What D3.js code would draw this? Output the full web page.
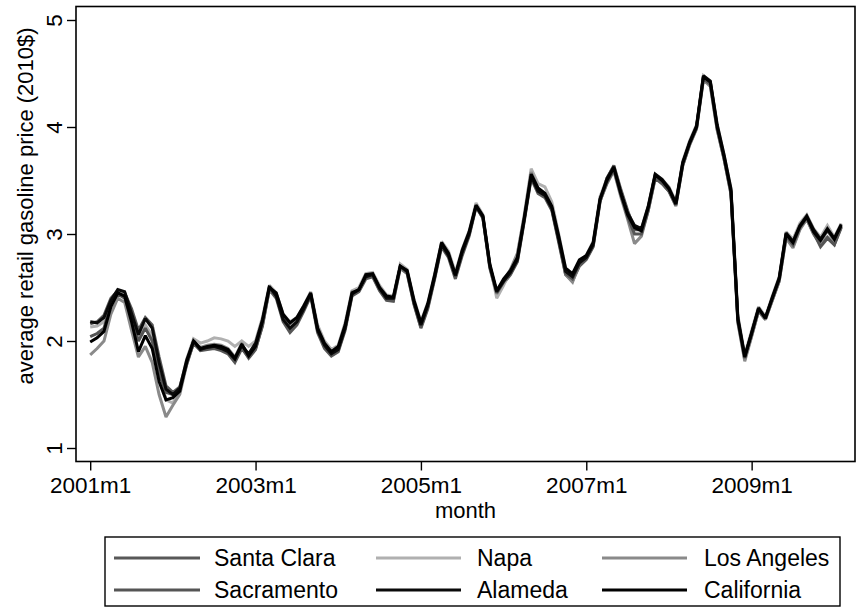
<!DOCTYPE html>
<html>
<head>
<meta charset="utf-8">
<script src="https://cdn.jsdelivr.net/npm/d3@7"></script>
<style>
  html, body { margin: 0; padding: 0; background: #fff; }
  svg { display: block; }
  text { font-family: "Liberation Sans", Arial, Helvetica, sans-serif; fill: #000; }
</style>
</head>
<body>
<svg id="chart" width="859" height="610"></svg>
<script>
// ---- data (monthly, 2001m1 .. 2010m2) ----
const santaClara = [
  2.16, 2.18, 2.24, 2.40, 2.47, 2.45, 2.30, 2.10, 2.22, 2.15, 1.85, 1.58,
  1.52, 1.57, 1.80, 1.98, 1.91, 1.92, 1.93, 1.91, 1.88, 1.80, 1.93, 1.85,
  1.93, 2.14, 2.48, 2.40, 2.18, 2.08, 2.15, 2.28, 2.42, 2.08, 1.93, 1.86,
  1.90, 2.10, 2.42, 2.46, 2.58, 2.60, 2.47, 2.38, 2.37, 2.68, 2.63, 2.34,
  2.12, 2.30, 2.58, 2.88, 2.78, 2.58, 2.80, 2.98, 3.25, 3.15, 2.68, 2.44,
  2.54, 2.62, 2.74, 3.12, 3.52, 3.38, 3.34, 3.22, 2.92, 2.62, 2.56, 2.70,
  2.76, 2.88, 3.30, 3.52, 3.64, 3.42, 3.22, 3.04, 3.04, 3.24, 3.53, 3.48,
  3.40, 3.27, 3.65, 3.84, 3.99, 4.46, 4.40, 3.98, 3.70, 3.38, 2.18, 1.83,
  2.05, 2.28, 2.20, 2.38, 2.56, 2.97, 2.88, 3.05, 3.14, 3.00, 2.90, 2.97,
  2.90, 3.06
];
const napa = [
  2.13, 2.14, 2.18, 2.36, 2.46, 2.44, 2.25, 2.05, 2.15, 2.05, 1.75, 1.45,
  1.42, 1.55, 1.83, 2.02, 1.98, 2.00, 2.03, 2.02, 2.00, 1.95, 2.00, 1.95,
  2.00, 2.22, 2.52, 2.45, 2.25, 2.18, 2.22, 2.33, 2.46, 2.15, 2.00, 1.92,
  1.96, 2.17, 2.47, 2.50, 2.63, 2.64, 2.52, 2.43, 2.42, 2.72, 2.67, 2.39,
  2.18, 2.36, 2.63, 2.93, 2.84, 2.64, 2.86, 3.03, 3.29, 3.18, 2.72, 2.40,
  2.52, 2.66, 2.80, 3.18, 3.61, 3.47, 3.44, 3.30, 3.00, 2.68, 2.62, 2.74,
  2.80, 2.93, 3.35, 3.52, 3.63, 3.40, 3.20, 3.07, 3.05, 3.27, 3.56, 3.51,
  3.44, 3.30, 3.68, 3.87, 4.02, 4.48, 4.43, 4.03, 3.74, 3.43, 2.24, 1.87,
  2.10, 2.32, 2.23, 2.42, 2.60, 3.02, 2.95, 3.10, 3.18, 3.05, 2.97, 3.08,
  2.97, 3.10
];
const losAngeles = [
  1.87, 1.93, 2.00, 2.25, 2.40, 2.36, 2.10, 1.85, 1.95, 1.80, 1.50, 1.29,
  1.40, 1.50, 1.78, 1.99, 1.94, 1.96, 1.97, 1.96, 1.93, 1.85, 1.98, 1.86,
  1.95, 2.17, 2.48, 2.44, 2.24, 2.16, 2.21, 2.32, 2.44, 2.13, 1.97, 1.88,
  1.93, 2.14, 2.46, 2.47, 2.60, 2.62, 2.49, 2.40, 2.40, 2.68, 2.64, 2.37,
  2.14, 2.33, 2.61, 2.92, 2.81, 2.61, 2.84, 3.01, 3.26, 3.15, 2.70, 2.44,
  2.56, 2.67, 2.82, 3.17, 3.58, 3.42, 3.37, 3.25, 2.97, 2.62, 2.55, 2.72,
  2.78, 2.90, 3.31, 3.47, 3.59, 3.35, 3.14, 2.91, 2.98, 3.22, 3.53, 3.48,
  3.40, 3.26, 3.64, 3.83, 3.98, 4.44, 4.38, 3.97, 3.70, 3.37, 2.17, 1.81,
  2.04, 2.28, 2.20, 2.38, 2.56, 2.96, 2.87, 3.04, 3.14, 3.00, 2.92, 3.03,
  2.93, 3.07
];
const sacramento = [
  2.04, 2.07, 2.12, 2.34, 2.44, 2.40, 2.22, 2.00, 2.12, 2.00, 1.70, 1.52,
  1.50, 1.55, 1.78, 1.98, 1.92, 1.93, 1.94, 1.92, 1.89, 1.82, 1.94, 1.84,
  1.92, 2.15, 2.49, 2.42, 2.22, 2.10, 2.18, 2.30, 2.43, 2.11, 1.95, 1.87,
  1.91, 2.12, 2.43, 2.47, 2.60, 2.61, 2.48, 2.39, 2.38, 2.69, 2.64, 2.35,
  2.13, 2.32, 2.60, 2.90, 2.80, 2.60, 2.82, 3.00, 3.26, 3.15, 2.70, 2.45,
  2.55, 2.63, 2.75, 3.13, 3.53, 3.40, 3.35, 3.23, 2.94, 2.63, 2.58, 2.72,
  2.77, 2.89, 3.31, 3.48, 3.60, 3.37, 3.16, 3.00, 3.00, 3.22, 3.52, 3.47,
  3.40, 3.27, 3.64, 3.84, 3.99, 4.45, 4.40, 3.99, 3.71, 3.39, 2.19, 1.84,
  2.06, 2.29, 2.21, 2.39, 2.57, 2.98, 2.90, 3.06, 3.15, 3.01, 2.88, 2.96,
  2.90, 3.07
];
const alameda = [
  2.18, 2.17, 2.22, 2.38, 2.48, 2.46, 2.26, 2.06, 2.21, 2.12, 1.80, 1.55,
  1.50, 1.56, 1.82, 2.00, 1.92, 1.94, 1.95, 1.93, 1.90, 1.83, 1.96, 1.88,
  1.98, 2.20, 2.51, 2.42, 2.20, 2.12, 2.18, 2.30, 2.44, 2.10, 1.96, 1.88,
  1.92, 2.12, 2.44, 2.48, 2.60, 2.62, 2.49, 2.40, 2.40, 2.70, 2.65, 2.36,
  2.15, 2.33, 2.60, 2.90, 2.80, 2.61, 2.83, 3.00, 3.26, 3.16, 2.70, 2.46,
  2.56, 2.64, 2.76, 3.14, 3.54, 3.40, 3.36, 3.24, 2.95, 2.65, 2.60, 2.73,
  2.78, 2.90, 3.32, 3.52, 3.63, 3.40, 3.20, 3.08, 3.05, 3.26, 3.56, 3.51,
  3.43, 3.29, 3.67, 3.86, 4.01, 4.48, 4.43, 4.02, 3.74, 3.42, 2.22, 1.86,
  2.07, 2.31, 2.21, 2.41, 2.59, 3.01, 2.93, 3.08, 3.17, 3.04, 2.95, 3.05,
  2.96, 3.09
];
const california = [
  1.99, 2.03, 2.09, 2.32, 2.45, 2.42, 2.18, 1.90, 2.05, 1.93, 1.62, 1.45,
  1.47, 1.53, 1.80, 2.00, 1.93, 1.95, 1.96, 1.95, 1.92, 1.84, 1.97, 1.86,
  1.95, 2.18, 2.50, 2.45, 2.25, 2.17, 2.22, 2.33, 2.45, 2.12, 1.98, 1.90,
  1.95, 2.15, 2.45, 2.48, 2.62, 2.63, 2.50, 2.42, 2.41, 2.70, 2.66, 2.38,
  2.17, 2.35, 2.62, 2.92, 2.82, 2.62, 2.85, 3.02, 3.27, 3.17, 2.72, 2.47,
  2.58, 2.66, 2.78, 3.15, 3.56, 3.43, 3.38, 3.26, 2.98, 2.68, 2.63, 2.76,
  2.80, 2.92, 3.33, 3.50, 3.62, 3.38, 3.18, 3.06, 3.03, 3.25, 3.55, 3.50,
  3.42, 3.28, 3.66, 3.85, 4.00, 4.47, 4.42, 4.00, 3.72, 3.40, 2.20, 1.85,
  2.08, 2.30, 2.22, 2.40, 2.58, 3.00, 2.92, 3.07, 3.16, 3.02, 2.94, 3.04,
  2.95, 3.08
];

const seriesNames  = ["Santa Clara", "Napa", "Los Angeles", "Sacramento", "Alameda", "California"];
const seriesValues = [santaClara, napa, losAngeles, sacramento, alameda, california];
const seriesColors = ["#585858", "#b0b0b0", "#8a8a8a", "#555555", "#0a0a0a", "#000000"];

const xTickMonths = [0, 24, 48, 72, 96];
const xTickLabels = ["2001m1", "2003m1", "2005m1", "2007m1", "2009m1"];
const yTickValues = [1, 2, 3, 4, 5];

const xTitle = "month";
const yTitle = "average retail gasoline price (2010$)";

// ---- layout ----
const svg = d3.select("#chart");
const frame = { left: 76, right: 855, top: 6.5, bottom: 461.5 };
const nMonths = california.length;

const x = d3.scaleLinear().domain([0, nMonths - 1]).range([90.2, 90.2 + (nMonths - 1) * 6.89]);
const y = d3.scaleLinear().domain([1, 5]).range([448, 20]);

// frame
svg.append("rect")
  .attr("x", frame.left).attr("y", frame.top)
  .attr("width", frame.right - frame.left).attr("height", frame.bottom - frame.top)
  .attr("fill", "none").attr("stroke", "#000").attr("stroke-width", 1.6);

const tickFont = 22.5;
const titleFont = 22;
const legendFont = 23;

// y axis
const yAxis = svg.append("g")
  .attr("transform", `translate(${frame.left},0)`)
  .call(d3.axisLeft(y).tickValues(yTickValues).tickSize(9).tickFormat(d3.format("d")));
yAxis.select(".domain").remove();
yAxis.selectAll(".tick line").attr("stroke", "#000").attr("stroke-width", 1.4);
yAxis.selectAll(".tick text")
  .attr("transform", "rotate(-90)")
  .attr("x", 0).attr("y", -14).attr("dy", 0)
  .attr("text-anchor", "middle")
  .style("font-size", tickFont + "px")
  .style("font-family", "'Liberation Sans', Arial, sans-serif");

// x axis
const xAxis = svg.append("g")
  .attr("transform", `translate(0,${frame.bottom})`)
  .call(d3.axisBottom(x).tickValues(xTickMonths).tickSize(9)
    .tickFormat((d, i) => xTickLabels[i]));
xAxis.select(".domain").remove();
xAxis.selectAll(".tick line").attr("stroke", "#000").attr("stroke-width", 1.4);
xAxis.selectAll(".tick text")
  .attr("y", 31).attr("dy", 0)
  .style("font-size", tickFont + "px")
  .style("font-family", "'Liberation Sans', Arial, sans-serif");

// axis titles
svg.append("text")
  .attr("x", (frame.left + frame.right) / 2).attr("y", 518)
  .attr("text-anchor", "middle")
  .style("font-size", titleFont + "px")
  .text(xTitle);

svg.append("text")
  .attr("transform", `translate(33,206) rotate(-90)`)
  .attr("text-anchor", "middle")
  .style("font-size", titleFont + "px")
  .text(yTitle);

// lines
const line = d3.line().x((d, i) => x(i)).y(d => y(d)).curve(d3.curveLinear);
const lines = svg.append("g");
seriesValues.forEach((vals, k) => {
  lines.append("path")
    .datum(vals)
    .attr("d", line)
    .attr("fill", "none")
    .attr("stroke", seriesColors[k])
    .attr("stroke-width", 3)
    .attr("stroke-linejoin", "miter")
    .attr("stroke-miterlimit", 2);
});

// legend
const legendBox = { x: 105, y: 537, w: 735, h: 69 };
svg.append("rect")
  .attr("x", legendBox.x).attr("y", legendBox.y)
  .attr("width", legendBox.w).attr("height", legendBox.h)
  .attr("fill", "#fff").attr("stroke", "#000").attr("stroke-width", 1.4);

const colLineX1 = [114, 376, 602];
const colLineX2 = [200, 461, 687];
const colTextX  = [214, 477, 704];
const rowY = [558, 590];

seriesNames.forEach((name, k) => {
  const r = Math.floor(k / 3), c = k % 3;
  svg.append("line")
    .attr("x1", colLineX1[c]).attr("x2", colLineX2[c])
    .attr("y1", rowY[r]).attr("y2", rowY[r])
    .attr("stroke", seriesColors[k]).attr("stroke-width", 3);
  svg.append("text")
    .attr("x", colTextX[c]).attr("y", rowY[r] + 8)
    .style("font-size", legendFont + "px")
    .text(name);
});
</script>
</body>
</html>
